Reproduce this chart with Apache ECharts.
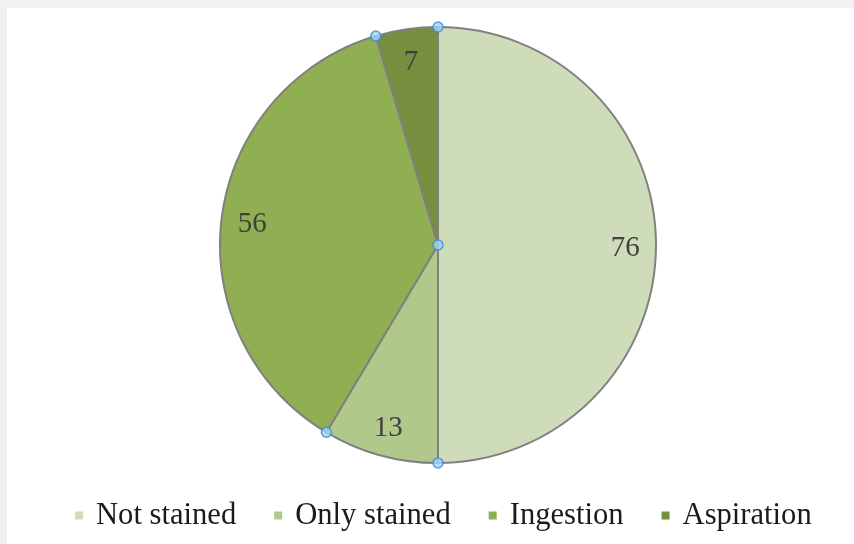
<!DOCTYPE html>
<html>
<head>
<meta charset="utf-8">
<script src="https://cdn.jsdelivr.net/npm/echarts@6/dist/echarts.min.js"></script>
<style>
html,body{margin:0;padding:0;background:#f0f1f3;width:854px;height:544px;overflow:hidden;}
#chart{position:absolute;left:7px;top:8px;width:847px;height:536px;background:#ffffff;}
</style>
</head>
<body>
<div id="chart"></div>
<script>
var categories = ['Not stained', 'Only stained', 'Ingestion', 'Aspiration'];
var values = [76, 13, 56, 7];
var colors = ['#cedcb9', '#b0c88a', '#90af53', '#768f3f'];

var total = values.reduce(function(a, b){ return a + b; }, 0);
var cum = [0];
for (var i = 0; i < values.length - 1; i++) cum.push(cum[i] + values[i]);

var center = [431, 237];
var R = 218;

var pieData = categories.map(function(c, i){
  return { name: c, value: values[i], itemStyle: { color: colors[i] } };
});

var chart = echarts.init(document.getElementById('chart'), null, { renderer: 'canvas' });
chart.setOption({
  animation: false,
  backgroundColor: '#ffffff',
  legend: {
    data: categories,
    left: 68,
    top: 492,
    padding: 0,
    itemGap: 38,
    itemWidth: 8,
    itemHeight: 8,
    icon: 'rect',
    itemStyle: { borderWidth: 0 },
    textStyle: {
      fontFamily: '"Liberation Serif", "Times New Roman", serif',
      fontSize: 30.6,
      color: '#1a1a1a',
      padding: [0, 0, 0, 8]
    }
  },
  polar: { center: center, radius: R },
  angleAxis: { type: 'value', min: 0, max: total, startAngle: 90, clockwise: true, show: false },
  radiusAxis: { type: 'value', min: 0, max: 1, show: false },
  series: [
    {
      type: 'pie',
      center: center,
      radius: [0, R],
      startAngle: 90,
      clockwise: true,
      data: pieData,
      label: { show: false },
      labelLine: { show: false },
      itemStyle: { borderColor: '#808080', borderWidth: 2 },
      silent: true
    },
    {
      type: 'pie',
      center: center,
      radius: [R * 0.69, R],
      startAngle: 90,
      clockwise: true,
      data: pieData.map(function(d){ return { name: d.name, value: d.value, itemStyle: { color: 'rgba(0,0,0,0)' } }; }),
      itemStyle: { borderWidth: 0 },
      label: {
        show: true,
        position: 'inside',
        formatter: '{c}',
        fontFamily: '"Liberation Serif", "Times New Roman", serif',
        fontSize: 29,
        color: '#404040',
        offset: [0, 3]
      },
      labelLine: { show: false },
      silent: true,
      legendHoverLink: false
    },
    {
      type: 'scatter',
      coordinateSystem: 'polar',
      symbol: 'circle',
      symbolSize: 10,
      itemStyle: { color: '#a8d0f4', borderColor: '#2e8be0', borderWidth: 1.5 },
      data: cum.map(function(v){ return [1, v]; }).concat([[0, 0]]),
      silent: true,
      z: 10
    }
  ]
});
</script>
</body>
</html>
